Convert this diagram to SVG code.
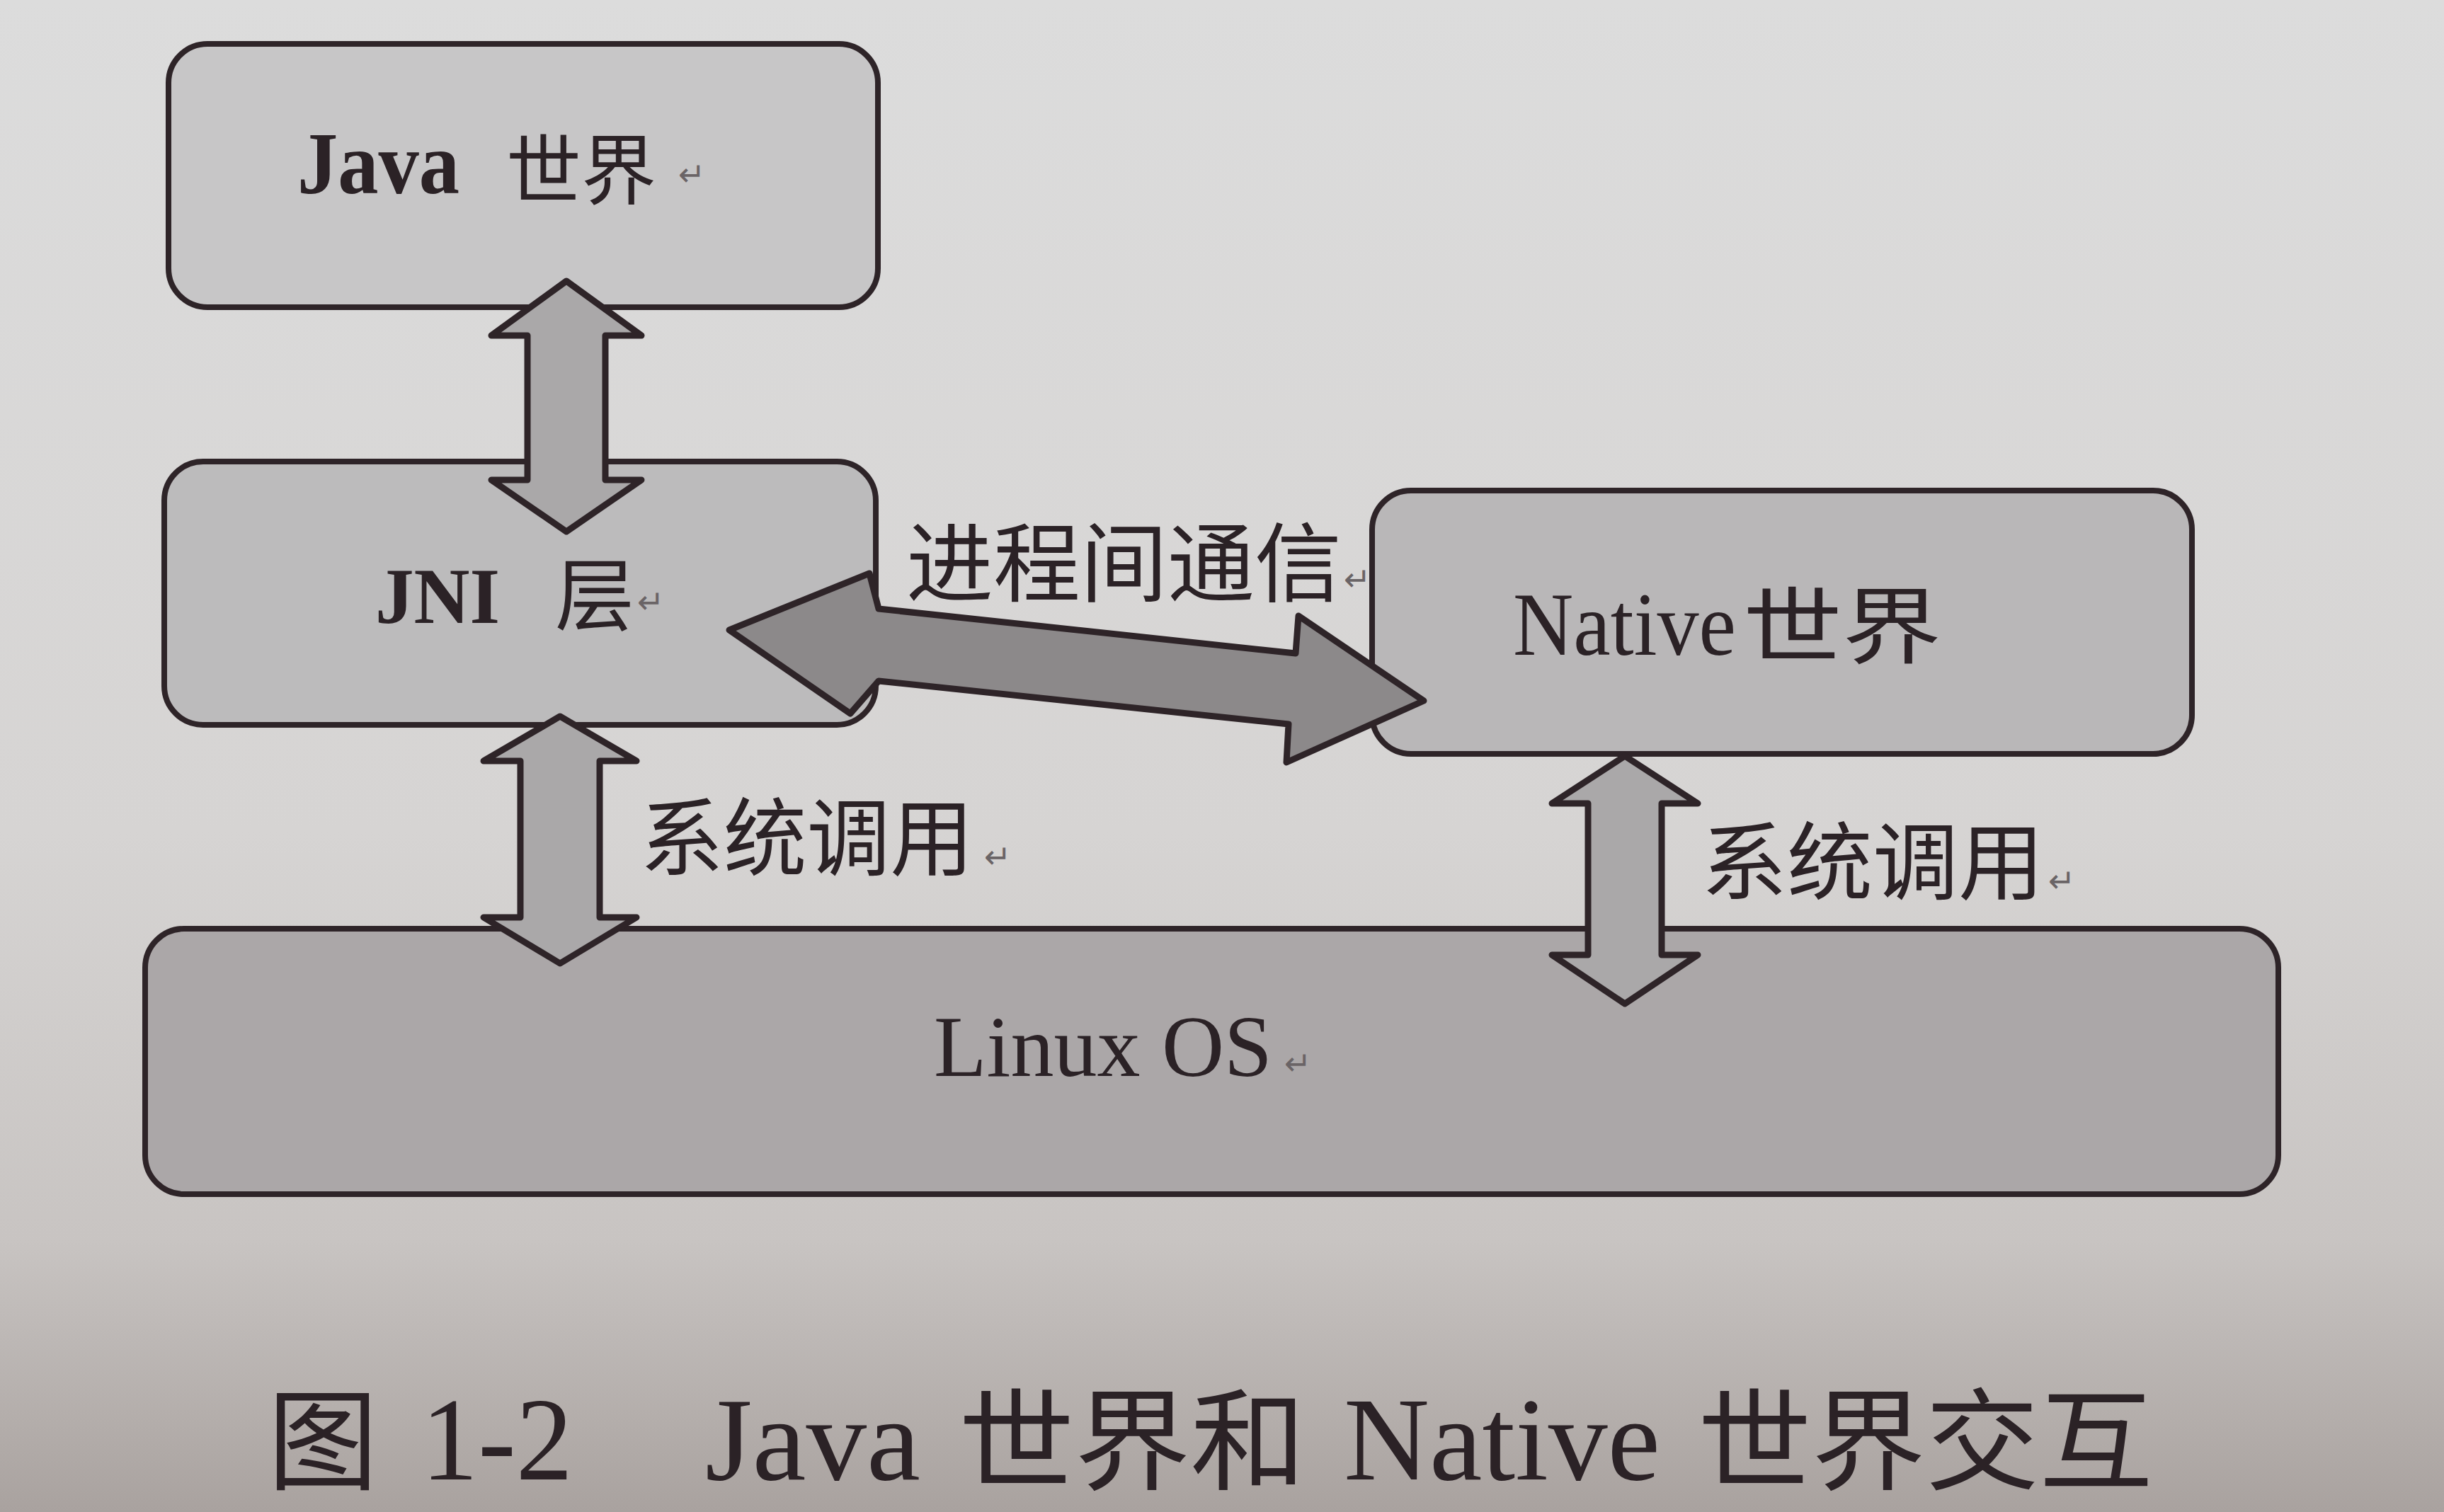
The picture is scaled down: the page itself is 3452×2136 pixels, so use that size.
<svg xmlns="http://www.w3.org/2000/svg" width="3452" height="2136" viewBox="0 0 3452 2136">
<defs>
<linearGradient id="bg" x1="0" y1="0" x2="0" y2="1">
<stop offset="0" stop-color="#dcdcdc"/>
<stop offset="0.55" stop-color="#d6d4d3"/>
<stop offset="0.82" stop-color="#c8c4c2"/>
<stop offset="1" stop-color="#a9a29f"/>
</linearGradient>
<style>
.box{stroke:#2e2428;stroke-width:8;stroke-linejoin:round}
.arr{stroke:#2e2428;stroke-width:9;stroke-linejoin:round}
.lat{font-family:"Liberation Serif","Times New Roman",serif;fill:#2b2226}
.cjk{font-family:"Noto Sans CJK SC","Noto Sans",sans-serif;fill:#2b2226}
.ret{font-family:"DejaVu Sans","Noto Sans",sans-serif;font-size:46px;fill:#6a6466}
</style>
</defs>
<rect x="0" y="0" width="3452" height="2136" fill="url(#bg)"/>

<g id="node-java">
<rect class="box" x="238" y="62" width="1002" height="372" rx="55" fill="#c7c6c7"/>
<text class="lat" x="420" y="273" font-size="124" font-weight="bold" textLength="229" lengthAdjust="spacingAndGlyphs">Java</text>
<text class="cjk" x="715" y="280" font-size="108" textLength="212" lengthAdjust="spacingAndGlyphs">世界</text>
<text class="ret" x="958" y="262">↵</text>
</g>

<g id="node-jni">
<rect class="box" x="232" y="652" width="1005" height="372" rx="55" fill="#bcbbbc"/>
<text class="lat" x="530" y="880" font-size="112" font-weight="bold" textLength="176" lengthAdjust="spacingAndGlyphs">JNI</text>
<text class="cjk" x="784" y="882" font-size="112">层</text>
<text class="ret" x="900" y="866">↵</text>
</g>

<g id="node-native">
<rect class="box" x="1938" y="693" width="1158" height="372" rx="55" fill="#b9b7b8"/>
<text class="lat" x="2137" y="925" font-size="128" textLength="315" lengthAdjust="spacingAndGlyphs">Native</text>
<text class="cjk" x="2462" y="928" font-size="118" textLength="280" lengthAdjust="spacingAndGlyphs">世界</text>
</g>

<g id="node-linux">
<rect class="box" x="205" y="1312" width="3013" height="375" rx="55" fill="#aba7a8"/>
<text class="lat" x="1319" y="1520" font-size="122">Linux OS</text>
<text class="ret" x="1814" y="1518">↵</text>
</g>

<g id="connectors">
<polygon class="arr" fill="#aaa8a9" points="800,397 906,474 855,474 855,678 906,678 800,751 694,678 745,678 745,474 694,474"/>
<polygon class="arr" fill="#aaa8a9" points="791,1012 899,1075 847,1075 847,1296 899,1296 791,1361 683,1296 735,1296 735,1075 683,1075"/>
<polygon class="arr" fill="#aaa8a9" points="2295,1068 2398,1135 2347,1135 2347,1349 2398,1349 2295,1418 2192,1349 2243,1349 2243,1135 2192,1135"/>
<polygon class="arr" fill="#8c898a" points="1030,890 1228,810 1241,860 1830,923 1834,870 2011,990 1817,1077 1820,1023 1241,962 1201,1008"/>
</g>

<g id="labels">
<text class="cjk" x="1280" y="840" font-size="122" textLength="615" lengthAdjust="spacingAndGlyphs">进程间通信</text>
<text class="ret" x="1898" y="834">↵</text>
<text class="cjk" x="904" y="1228" font-size="120" textLength="471" lengthAdjust="spacingAndGlyphs">系统调用</text>
<text class="ret" x="1390" y="1226">↵</text>
<text class="cjk" x="2403" y="1262" font-size="120" textLength="484" lengthAdjust="spacingAndGlyphs">系统调用</text>
<text class="ret" x="2893" y="1260">↵</text>
</g>

<g id="caption">
<text class="cjk" x="378" y="2092" font-size="156">图</text>
<text class="lat" x="595" y="2090" font-size="168" textLength="214" lengthAdjust="spacingAndGlyphs">1-2</text>
<text class="lat" x="996" y="2090" font-size="168" textLength="304" lengthAdjust="spacingAndGlyphs">Java</text>
<text class="cjk" x="1354" y="2092" font-size="156" textLength="491" lengthAdjust="spacingAndGlyphs">世界和</text>
<text class="lat" x="1898" y="2090" font-size="168" textLength="447" lengthAdjust="spacingAndGlyphs">Native</text>
<text class="cjk" x="2398" y="2092" font-size="156" textLength="643" lengthAdjust="spacingAndGlyphs">世界交互</text>
</g>
</svg>
